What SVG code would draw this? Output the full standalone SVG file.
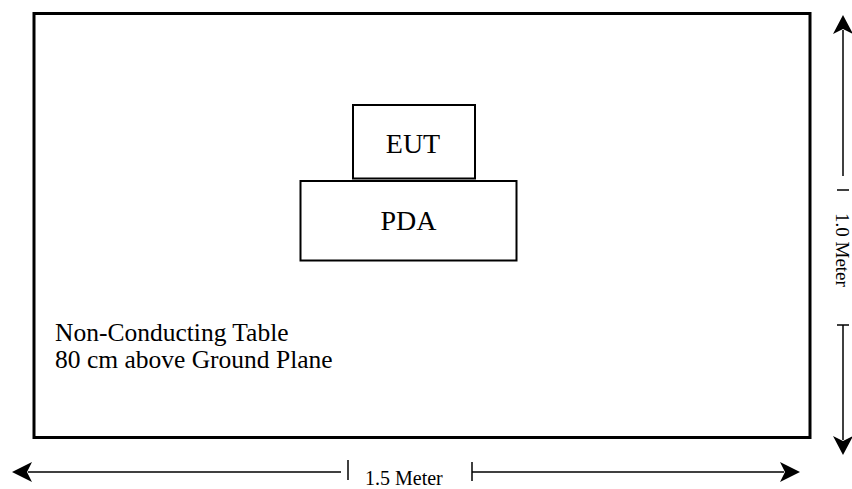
<svg xmlns="http://www.w3.org/2000/svg" width="852" height="489" viewBox="0 0 852 489">
<style>
.t{font-family:"Liberation Serif","Times New Roman",serif;fill:#000}
.box{fill:#fff;stroke:#000;stroke-width:2}
.ln{stroke:#000;stroke-width:1.5;fill:none}
.ah{fill:#000}
</style>
<rect width="852" height="489" fill="#fff"/>
<g id="table">
<rect x="34" y="13.5" width="776" height="424" fill="none" stroke="#000" stroke-width="3"/>
<text class="t" x="55" y="341" font-size="25.5">Non-Conducting Table</text>
<text class="t" x="55" y="368" font-size="25.5">80 cm above Ground Plane</text>
</g>
<g id="eut">
<rect class="box" x="353" y="105" width="122" height="73.5"/>
<text class="t" x="413" y="153" font-size="28" text-anchor="middle">EUT</text>
</g>
<g id="pda">
<rect class="box" x="300.5" y="181" width="216" height="79.5"/>
<text class="t" x="408.5" y="230" font-size="28" text-anchor="middle">PDA</text>
</g>
<g id="connectors">
<line class="ln" x1="28" y1="472" x2="341" y2="472"/>
<line class="ln" x1="348" y1="460" x2="348" y2="480"/>
<polygon class="ah" points="12,472 32,462 27,472 32,482"/>
<line class="ln" x1="472" y1="462" x2="472" y2="481"/>
<line class="ln" x1="472" y1="472" x2="784" y2="472"/>
<polygon class="ah" points="800,472 780,462 785,472 780,482"/>
<text class="t" x="365" y="485" font-size="20">1.5 Meter</text>
<line class="ln" x1="843" y1="30" x2="843" y2="176"/>
<polygon class="ah" points="843,15 833,34 843,29 853,34"/>
<line class="ln" x1="837" y1="190" x2="849" y2="190"/>
<line class="ln" x1="837" y1="325" x2="849" y2="325"/>
<line class="ln" x1="843" y1="325" x2="843" y2="440"/>
<polygon class="ah" points="843,455 833,436 843,441 853,436"/>
<text class="t" x="0" y="0" font-size="19" transform="translate(836,213) rotate(90)">1.0 Meter</text>
</g>
</svg>
